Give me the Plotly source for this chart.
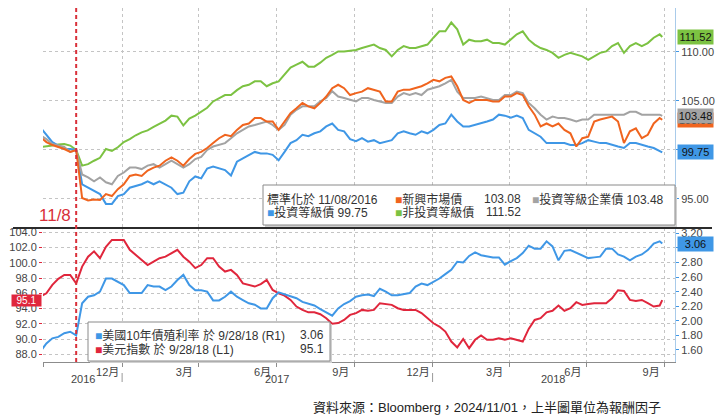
import pandas as pd
import plotly.graph_objects as go

# weekly closes anchored on election day (11/8/2016), last point is 9/28/2018
dates = list(pd.date_range("2016-09-27", periods=105, freq="7D").strftime("%Y-%m-%d")) + ["2018-09-28"]

# top panel, normalised to 100 on 11/08/2016
em_debt = [101.3, 100.8, 100.5, 100.3, 100.1, 99.8, 100.0, 95.1, 94.85, 94.95,
           94.9, 95.5, 95.3, 96.0, 96.5, 97.35, 97.5, 97.35, 97.9, 98.2,
           98.4, 98.9, 99.25, 98.9, 98.4, 99.07, 99.6, 99.8, 100.2, 100.7,
           101.2, 101.55, 101.4, 102.05, 102.55, 102.7, 103.25, 103.25, 102.9, 102.9,
           102.05, 102.9, 103.75, 104.25, 104.8, 104.45, 104.25, 104.8, 105.45, 106.3,
           106.65, 106.3, 105.6, 105.8, 105.95, 106.3, 106.15, 105.95, 104.95, 104.95,
           105.95, 106.15, 106.15, 106.3, 106.5, 106.8, 107.15, 107.0, 107.35, 107.5,
           106.5, 105.1, 104.8, 105.1, 105.1, 105.1, 104.95, 104.95, 105.45, 105.45,
           105.8, 105.6, 104.45, 103.6, 102.4, 102.7, 102.4, 102.7, 102.05, 101.7,
           100.35, 101.2, 101.35, 102.9, 103.1, 103.25, 103.4, 102.9, 100.7, 101.9,
           102.2, 101.2, 101.55, 102.7, 103.25, 103.08]
ig_corp = [101.5, 101.1, 100.6, 100.45, 100.3, 99.8, 100.0, 97.5, 97.2, 96.8,
           97.2, 96.7, 96.5, 97.35, 97.7, 98.2, 98.2, 98.05, 98.4, 98.55,
           98.2, 98.55, 98.9, 98.55, 98.2, 98.55, 99.07, 99.3, 100.0, 100.35,
           100.5, 100.7, 101.2, 101.7, 102.05, 102.4, 102.55, 102.7, 102.9, 102.55,
           102.05, 102.55, 103.6, 104.1, 104.45, 104.45, 104.45, 104.95, 105.3, 106.0,
           105.45, 105.3, 105.1, 104.95, 105.3, 105.3, 105.1, 104.95, 104.8, 104.8,
           105.45, 105.8, 105.6, 105.8, 105.6, 106.15, 106.3, 106.5, 106.8, 107.15,
           105.95, 105.3, 105.3, 105.3, 105.45, 105.3, 105.1, 105.1, 105.6, 105.6,
           105.95, 105.8, 104.8, 104.25, 103.6, 103.1, 103.4, 103.25, 103.25, 103.1,
           102.9, 103.1, 103.1, 103.6, 103.6, 103.6, 103.6, 103.6, 103.6, 103.9,
           103.9, 103.6, 103.6, 103.6, 103.6, 103.48]
ig_bond = [102.3, 101.5, 100.8, 100.45, 100.1, 100.1, 100.0, 96.5, 96.15, 95.8,
           95.5, 94.5, 94.5, 95.3, 95.5, 96.15, 96.3, 96.5, 96.8, 96.5,
           96.8, 96.5, 96.15, 95.5, 95.65, 96.8, 97.3, 97.1, 98.1, 98.3,
           98.1, 97.95, 97.4, 98.8, 99.15, 99.5, 99.8, 99.65, 99.65, 99.5,
           98.95, 99.8, 100.7, 101.0, 101.55, 101.4, 101.7, 101.9, 102.4, 102.7,
           102.05, 101.9, 101.1, 100.9, 101.2, 100.85, 101.0, 100.7, 100.85, 101.0,
           101.7, 101.9, 101.7, 101.55, 101.9, 101.7, 102.05, 102.55, 102.7, 103.6,
           102.9, 102.4, 102.4, 102.55, 102.7, 102.9, 103.1, 103.6, 103.5, 103.3,
           103.5, 103.25, 102.05, 101.7, 101.35, 100.7, 100.7, 100.7, 100.7, 100.5,
           100.5, 100.7, 101.0, 100.85, 100.7, 100.7, 100.5, 100.35, 100.2, 100.7,
           100.7, 100.5, 100.35, 100.2, 99.85, 99.75]
high_yield = [100.3, 100.35, 100.45, 100.55, 100.6, 100.45, 100.0, 98.4, 98.55, 98.9,
              99.2, 100.1, 99.9, 100.27, 100.8, 101.1, 101.5, 101.8, 102.0, 102.35,
              102.7, 103.0, 103.5, 103.4, 102.5, 103.2, 103.5, 103.9, 104.3, 104.95,
              105.3, 105.6, 105.6, 106.1, 106.5, 106.65, 107.0, 107.0, 106.5, 106.8,
              107.0, 107.7, 108.4, 108.7, 109.0, 108.5, 108.5, 108.9, 109.4, 109.7,
              110.05, 110.05, 110.1, 110.2, 110.4, 110.6, 110.75, 110.4, 110.2, 109.55,
              110.2, 110.6, 110.4, 110.4, 110.6, 110.75, 111.45, 112.1, 112.1, 113.0,
              112.3, 110.75, 111.25, 111.1, 111.1, 111.25, 110.9, 110.9, 110.75, 111.25,
              111.8, 112.1, 111.25, 110.75, 110.4, 110.2, 109.9, 109.4, 109.7, 109.9,
              109.7, 109.55, 109.2, 109.55, 109.9, 110.05, 110.6, 110.9, 109.9, 110.6,
              110.9, 110.6, 110.9, 111.45, 111.8, 111.52]

# bottom panel
dxy = [95.6, 96.0, 97.1, 97.9, 98.4, 98.4, 97.3, 99.5, 100.8, 101.5,
       100.6, 102.1, 103.0, 103.0, 103.0, 101.7, 101.0, 100.4, 99.7, 100.15,
       100.6, 100.8, 101.25, 101.7, 100.8, 100.15, 99.3, 99.7, 100.6, 100.6,
       99.5, 98.85, 99.07, 98.4, 97.3, 97.1, 96.88, 97.2, 97.75, 96.44,
       96.0, 95.7, 95.13, 94.26, 93.82, 93.5, 93.5, 93.25, 92.73, 92.0,
       92.1, 92.5, 93.17, 93.4, 93.82, 93.7, 93.82, 94.7, 94.56, 94.48,
       94.04, 93.82, 93.82, 93.82, 93.4, 92.73, 92.07, 91.64, 90.98, 89.67,
       88.9, 90.0, 88.8, 89.9, 90.46, 89.9, 89.9, 90.1, 89.9, 90.1,
       89.9, 89.67, 91.33, 92.5, 92.73, 93.5, 93.7, 94.4, 93.7, 94.04,
       94.83, 94.48, 94.6, 94.7, 94.7, 94.7, 95.35, 96.4, 96.3, 95.13,
       95.0, 95.13, 94.7, 94.26, 94.4, 95.1]
ust10y = [1.58, 1.69, 1.76, 1.78, 1.83, 1.85, 1.80, 2.24, 2.33, 2.35,
          2.40, 2.58, 2.58, 2.54, 2.49, 2.38, 2.38, 2.38, 2.49, 2.47,
          2.47, 2.42, 2.47, 2.56, 2.63, 2.49, 2.42, 2.42, 2.40, 2.28,
          2.28, 2.33, 2.40, 2.33, 2.285, 2.24, 2.22, 2.17, 2.17, 2.31,
          2.39, 2.36, 2.33, 2.31, 2.26, 2.23, 2.21, 2.16, 2.12, 2.07,
          2.17, 2.23, 2.27, 2.33, 2.35, 2.36, 2.34, 2.44, 2.40, 2.35,
          2.35, 2.37, 2.38, 2.47, 2.51, 2.49, 2.53, 2.58, 2.64, 2.70,
          2.81, 2.80, 2.89, 2.94, 2.90, 2.88, 2.87, 2.87, 2.77, 2.82,
          2.86, 2.93, 3.03, 2.99, 2.99, 3.09, 3.02, 2.83, 2.96, 2.97,
          2.93, 2.89, 2.86, 2.87, 2.88, 2.99, 2.99, 2.91, 2.88, 2.83,
          2.88, 2.91, 2.97, 3.06, 3.09, 3.06]

quarter_starts = ["2016-10-01", "2017-01-01", "2017-04-01", "2017-07-01", "2017-10-01",
                  "2018-01-01", "2018-04-01", "2018-07-01", "2018-10-01"]
month_ticks = ["2016-12-15", "2017-03-15", "2017-06-15", "2017-09-15",
               "2017-12-15", "2018-03-15", "2018-06-15", "2018-09-15"]
month_text = ["12月", "3月", "6月", "9月", "12月", "3月", "6月", "9月"]
year_pos = ["2016-11-16", "2017-07-02", "2018-05-22"]
year_text = ["2016", "2017", "2018"]
year_breaks = ["2017-01-01", "2018-01-01"]
election = "2016-11-08"

# right-hand ticks; the label that sits under a last-value tag is left blank
top_ticks = [95, 100, 105, 110]
top_text = ["95.00", "", "105.00", "110.00"]
yield_ticks = [1.6, 1.8, 2.0, 2.2, 2.4, 2.6, 2.8, 3.0, 3.2]
yield_text = ["1.60", "1.80", "2.00", "2.20", "2.40", "2.60", "2.80", "", "3.20"]

ORANGE = "#f0641e"
GRAY = "#a3a3a3"
BLUE = "#3f97e6"
GREEN = "#7cc242"
RED = "#e0263c"
GRID = "#c4c4c4"
TXT = "#333333"

# the page body keeps its 8px margin, so the figure is laid out in window pixels minus that
PAD = 8
W, H = 725 - PAD, 418 - PAD


def px(x):
    return (x - PAD) / W


def py(y):
    return min(1, 1 - (y - PAD) / H)


def main():
    fig = go.Figure()

    for vals, col in [(high_yield, GREEN), (ig_bond, BLUE), (ig_corp, GRAY), (em_debt, ORANGE)]:
        fig.add_trace(go.Scatter(x=dates, y=vals, mode="lines", xaxis="x2", yaxis="y2",
                                 line=dict(color=col, width=2)))
    fig.add_trace(go.Scatter(x=dates, y=ust10y, mode="lines", xaxis="x", yaxis="y3",
                             line=dict(color=BLUE, width=2)))
    fig.add_trace(go.Scatter(x=dates, y=dxy, mode="lines", xaxis="x", yaxis="y",
                             line=dict(color=RED, width=2)))

    xdom = [px(43), px(675)]
    xrange = ["2016-09-30", "2018-10-13"]
    qgrid = dict(tickmode="array", tickvals=quarter_starts, showgrid=True,
                 gridcolor=GRID, griddash="dot", gridwidth=1)

    fig.update_layout(
        width=W, height=H,
        margin=dict(l=0, r=0, t=0, b=0),
        paper_bgcolor="white", plot_bgcolor="white",
        showlegend=False,
        font=dict(family="Liberation Sans, Noto Sans CJK TC, sans-serif", size=11, color="#444"),
        xaxis=dict(domain=xdom, anchor="y", type="date", range=xrange, automargin=False,
                   tickmode="array", tickvals=month_ticks, ticktext=month_text,
                   ticks="", showgrid=False, zeroline=False,
                   showline=True, linecolor="#8c8c8c",
                   minor=dict(qgrid, ticks="outside", ticklen=4, tickcolor="#8c8c8c")),
        xaxis2=dict(domain=xdom, anchor="y2", matches="x", type="date", side="top",
                    automargin=False,
                    showticklabels=False, ticks="", showgrid=False, zeroline=False,
                    showline=True, linecolor="#e6e6e6",
                    minor=dict(qgrid, ticks="")),
        yaxis=dict(domain=[py(362), py(228)], anchor="x", range=[86.99, 104.56],
                   automargin=False,
                   tickmode="array", tickvals=list(range(88, 105, 2)), tickformat=".1f",
                   ticks="outside", ticklen=3, tickcolor=RED,
                   showgrid=True, gridcolor=GRID, griddash="dot", zeroline=False),
        yaxis3=dict(overlaying="y", side="right", anchor="x", range=[1.435, 3.273],
                    automargin=False,
                    tickmode="array", tickvals=yield_ticks, ticktext=yield_text,
                    ticks="outside", ticklen=3, tickcolor=BLUE,
                    showgrid=False, zeroline=False, showline=True, linecolor="#a9cbea"),
        yaxis2=dict(domain=[py(228), py(8)], anchor="x2", side="right", range=[92.04, 114.48],
                    automargin=False,
                    tickmode="array", tickvals=top_ticks, ticktext=top_text,
                    ticks="outside", ticklen=3, tickcolor=BLUE,
                    showgrid=True, gridcolor=GRID, griddash="dot", zeroline=False,
                    showline=True, linecolor="#a9cbea"),
    )

    shapes = [
        # divider between the two panels
        dict(type="line", xref="paper", yref="paper", x0=px(13), x1=px(712),
             y0=py(228), y1=py(228), line=dict(color="#2b2b2b", width=2)),
        dict(type="line", xref="x", yref="paper", x0=election, x1=election,
             y0=py(362), y1=1, line=dict(color="#d9303a", width=2, dash="4px,3px"), layer="above"),
    ]
    for yb in year_breaks:
        shapes.append(dict(type="line", xref="x", yref="paper", x0=yb, x1=yb,
                           y0=py(382), y1=py(373), line=dict(color="#999", width=1)))
    # legend boxes with a faint shadow
    for (x0, y0, x1, y1) in [(263, 185, 675, 225), (88, 322, 330, 361)]:
        shapes.append(dict(type="rect", xref="paper", yref="paper", x0=px(x0 + 2), x1=px(x1 + 2),
                           y0=py(y1 + 2), y1=py(y0 + 2), fillcolor="#d0d0d0",
                           line=dict(width=0), layer="above"))
        shapes.append(dict(type="rect", xref="paper", yref="paper", x0=px(x0), x1=px(x1),
                           y0=py(y1), y1=py(y0), fillcolor="white",
                           line=dict(color="#8a8a8a", width=1), layer="above"))
    fig.update_layout(shapes=shapes)

    def sq(col):
        return f"<span style='color:{col}'>■</span>"

    def note(x, y, text, anchor="left", size=12, color=TXT):
        fig.add_annotation(xref="paper", yref="paper", x=px(x), y=py(y), text=text,
                           xanchor=anchor, yanchor="middle", showarrow=False,
                           borderpad=0, font=dict(size=size, color=color))

    # top legend
    note(266, 199, "標準化於 11/08/2016")
    note(394, 199, sq(ORANGE) + "新興市場債")
    note(522, 199, f"{em_debt[-1]:.2f}", anchor="right")
    note(531, 199, sq(GRAY) + f"投資等級企業債 {ig_corp[-1]:.2f}")
    note(266, 212, sq(BLUE) + f"投資等級債 {ig_bond[-1]:.2f}")
    note(394, 212, sq(GREEN) + "非投資等級債")
    note(522, 212, f"{high_yield[-1]:.2f}", anchor="right")

    # bottom legend
    note(94, 335, sq(BLUE) + "美國10年債殖利率 於 9/28/18 (R1)")
    note(325, 335, f"{ust10y[-1]:.2f}", anchor="right")
    note(94, 349, sq(RED) + "美元指數 於 9/28/18 (L1)")
    note(325, 349, f"{dxy[-1]:.1f}", anchor="right")

    # x axis years
    for d, t in zip(year_pos, year_text):
        fig.add_annotation(xref="x", yref="paper", x=d, y=py(379), text=t, showarrow=False,
                           yanchor="middle", font=dict(size=11, color="#444"))

    fig.add_annotation(xref="x", yref="paper", x=election, y=py(215), text="11/8",
                       xanchor="right", yanchor="middle", xshift=-3, showarrow=False,
                       font=dict(size=17, color="#d9303a"))

    # last-value tags on the axes
    for vals, col, yref in [(em_debt, ORANGE, "y2"), (ig_corp, GRAY, "y2"),
                            (ig_bond, BLUE, "y2"), (high_yield, GREEN, "y2"),
                            (ust10y, BLUE, "y3")]:
        fig.add_annotation(xref="paper", yref=yref, x=px(677), y=vals[-1],
                           text=f"{vals[-1]:.2f}", xanchor="left", yanchor="middle",
                           showarrow=False, bgcolor=col, width=33, borderpad=1,
                           font=dict(size=11, color="#111"))
    fig.add_annotation(xref="paper", yref="y", x=px(42), y=dxy[-1], text=f"{dxy[-1]:.1f}",
                       xanchor="right", yanchor="middle", showarrow=False, bgcolor=RED,
                       width=29, height=11, borderpad=0, font=dict(size=10, color="white"))

    note(662, 407, "資料來源：Bloomberg，2024/11/01，上半圖單位為報酬因子",
         anchor="right", size=13, color="#222")

    fig.write_html("out.html")


if __name__ == '__main__':
    main()
